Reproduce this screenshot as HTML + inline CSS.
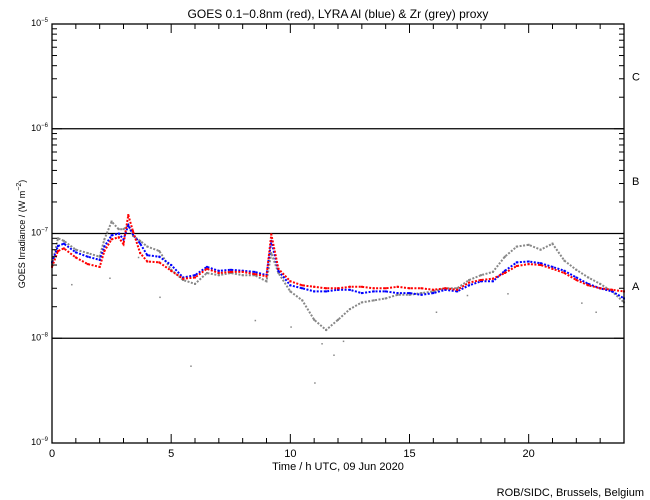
<!DOCTYPE html>
<html><head><meta charset="utf-8"><style>
body{margin:0;background:#fff;}
svg{display:block;font-family:"Liberation Sans","DejaVu Sans",sans-serif;}
</style></head><body>
<svg id="chart" width="650" height="500" viewBox="0 0 650 500">
<rect width="650" height="500" fill="#fff"/>
<text x="338" y="18" font-size="12" text-anchor="middle">GOES 0.1−0.8nm (red), LYRA Al (blue) &amp; Zr (grey) proxy</text>
<text transform="translate(25,234) rotate(-90)" font-size="9" text-anchor="middle">GOES Irradiance / (W m<tspan dy="-4" font-size="7">−2</tspan><tspan dy="4">)</tspan></text>
<text x="338" y="470" font-size="11" text-anchor="middle">Time / h UTC, 09 Jun 2020</text>
<text x="644" y="496" font-size="11" text-anchor="end">ROB/SIDC, Brussels, Belgium</text>
<g id="grid"></g><g id="series"></g><g id="axes"></g>
</svg>
<script>
const times=[0,0.25,0.5,1,1.5,2,2.2,2.5,2.8,3,3.2,3.4,3.7,4,4.5,5,5.5,6,6.5,7,7.5,8,8.5,9,9.2,9.5,10,10.5,11,11.5,12,12.5,13,13.5,14,14.5,15,15.5,16,16.5,17,17.5,18,18.5,19,19.5,20,20.5,21,21.5,22,22.5,23,23.5,24];
// values in units of 1e-8 W m^-2
const goesRed=[4.8,6.8,7.2,5.9,5.1,4.8,6.8,8.8,9.2,7.9,15,10.5,6.5,5.4,5.3,4.4,3.7,3.8,4.6,4.2,4.3,4.3,4.1,3.9,9.8,4.6,3.5,3.2,3.1,3.0,3.0,3.1,3.1,3.0,3.0,3.1,3.0,3.0,2.9,3.0,2.9,3.4,3.6,3.7,4.2,4.9,5.1,5.0,4.6,4.2,3.6,3.2,3.0,2.9,2.8];
const lyraAlBlue=[5.3,7.6,8.0,6.6,6.0,5.6,7.5,9.6,10,8.8,12,9.8,8.0,6.2,6.0,5.0,3.8,4.0,4.8,4.4,4.5,4.4,4.3,4.0,8.5,4.4,3.2,3.0,2.8,2.8,2.9,2.9,2.7,2.8,2.8,2.7,2.7,2.6,2.7,2.9,2.8,3.2,3.5,3.5,4.4,5.3,5.4,5.2,4.8,4.4,3.8,3.3,3.0,2.8,2.4];
const lyraZrGrey=[5.0,9.0,8.5,7.0,6.5,6.0,8.8,13,11,11,12,9.5,8.5,7.5,6.8,4.5,3.6,3.3,4.2,4.0,4.2,4.0,4.0,3.5,6.5,4.2,2.8,2.3,1.5,1.2,1.5,1.9,2.2,2.3,2.4,2.6,2.6,2.7,2.8,3.0,3.0,3.6,4.0,4.3,6.0,7.5,7.8,7.0,8.0,5.5,4.5,3.8,3.3,2.8,2.2];
const outlierTimes=[0.8,2.4,3.6,4.5,5.8,8.5,10.0,11.0,11.3,11.8,12.2,16.1,17.4,19.1,22.2,22.8];
const outlierGrey=[3.3,3.8,6.0,2.5,0.55,1.5,1.3,0.38,0.9,0.7,0.95,1.8,2.6,2.7,2.2,1.8];
const xTicks=[0,5,10,15,20];
const yExps=[-9,-8,-7,-6,-5];
const classLabels=["A","B","C"];

const NS="http://www.w3.org/2000/svg";
const X0=52,X1=624,Y0=443,Y1=24;
const xs=t=>X0+(X1-X0)*t/24;
const ys=v=>Y0-(Y0-Y1)*(Math.log10(v*1e-8)+9)/4;
function mk(tag,attrs,parent){const e=document.createElementNS(NS,tag);for(const k in attrs)e.setAttribute(k,attrs[k]);parent.appendChild(e);return e;}
const grid=document.getElementById('grid'),ser=document.getElementById('series'),ax=document.getElementById('axes');
// decade lines
[1,10,100].forEach((v,i)=>{const l=mk('line',{x1:X0,x2:X1,y1:ys(v),y2:ys(v),stroke:'#000','stroke-width':1.3},grid);

});
// class labels
classLabels.forEach((c,i)=>{const y=(ys(Math.pow(10,i))+ys(Math.pow(10,i+1)))/2;const t=mk('text',{x:632,y:y+4,'font-size':11},ax);t.textContent=c;

});
// series
function drawSeries(vals,color,name){
 const pts=times.map((t,i)=>xs(t).toFixed(1)+','+ys(vals[i]).toFixed(1)).join(' ');
 const pl=mk('polyline',{points:pts,fill:'none',stroke:color,'stroke-width':2,'stroke-dasharray':'2 1.5'},ser);
 
 
 times.forEach((t,i)=>{const r=mk('rect',{x:xs(t)-1,y:ys(vals[i])-1,width:2,height:2,fill:color},ser);
 
 });
}
drawSeries(lyraZrGrey,'#888','zr-grey');
drawSeries(lyraAlBlue,'#0000ff','al-blue');
drawSeries(goesRed,'#ff0000','goes-red');
outlierTimes.forEach((t,i)=>{const r=mk('rect',{x:xs(t),y:ys(outlierGrey[i]),width:1.5,height:1.5,fill:'#888'},ser);

});
// frame
const fr=mk('rect',{x:X0,y:Y1,width:X1-X0,height:Y0-Y1,fill:'none',stroke:'#000','stroke-width':1.3},ax);


// x ticks
for(let h=0;h<=24;h++){const major=h%5===0;const L=major?9:5;
 mk('line',{x1:xs(h),x2:xs(h),y1:Y0,y2:Y0-L,stroke:'#000'},ax);
 mk('line',{x1:xs(h),x2:xs(h),y1:Y1,y2:Y1+L,stroke:'#000'},ax);}
xTicks.forEach(h=>{const t=mk('text',{x:xs(h),y:457,'font-size':11,'text-anchor':'middle'},ax);t.textContent=h;

});
// y ticks
for(let d=0;d<4;d++){for(let m=1;m<=9;m++){const v=m*Math.pow(10,d);const y=ys(v);const L=m===1?10:5;
 mk('line',{x1:X0,x2:X0+L,y1:y,y2:y,stroke:'#000'},ax);
 mk('line',{x1:X1,x2:X1-L,y1:y,y2:y,stroke:'#000'},ax);}}
yExps.forEach(e=>{const y=ys(Math.pow(10,e+8));const t=mk('text',{x:48,y:y+2,'font-size':9,'text-anchor':'end'},ax);
 t.textContent='10';const s=mk('tspan',{dy:-4,'font-size':6},t);s.textContent='−'+(-e);
 
 });
</script>
</body></html>
